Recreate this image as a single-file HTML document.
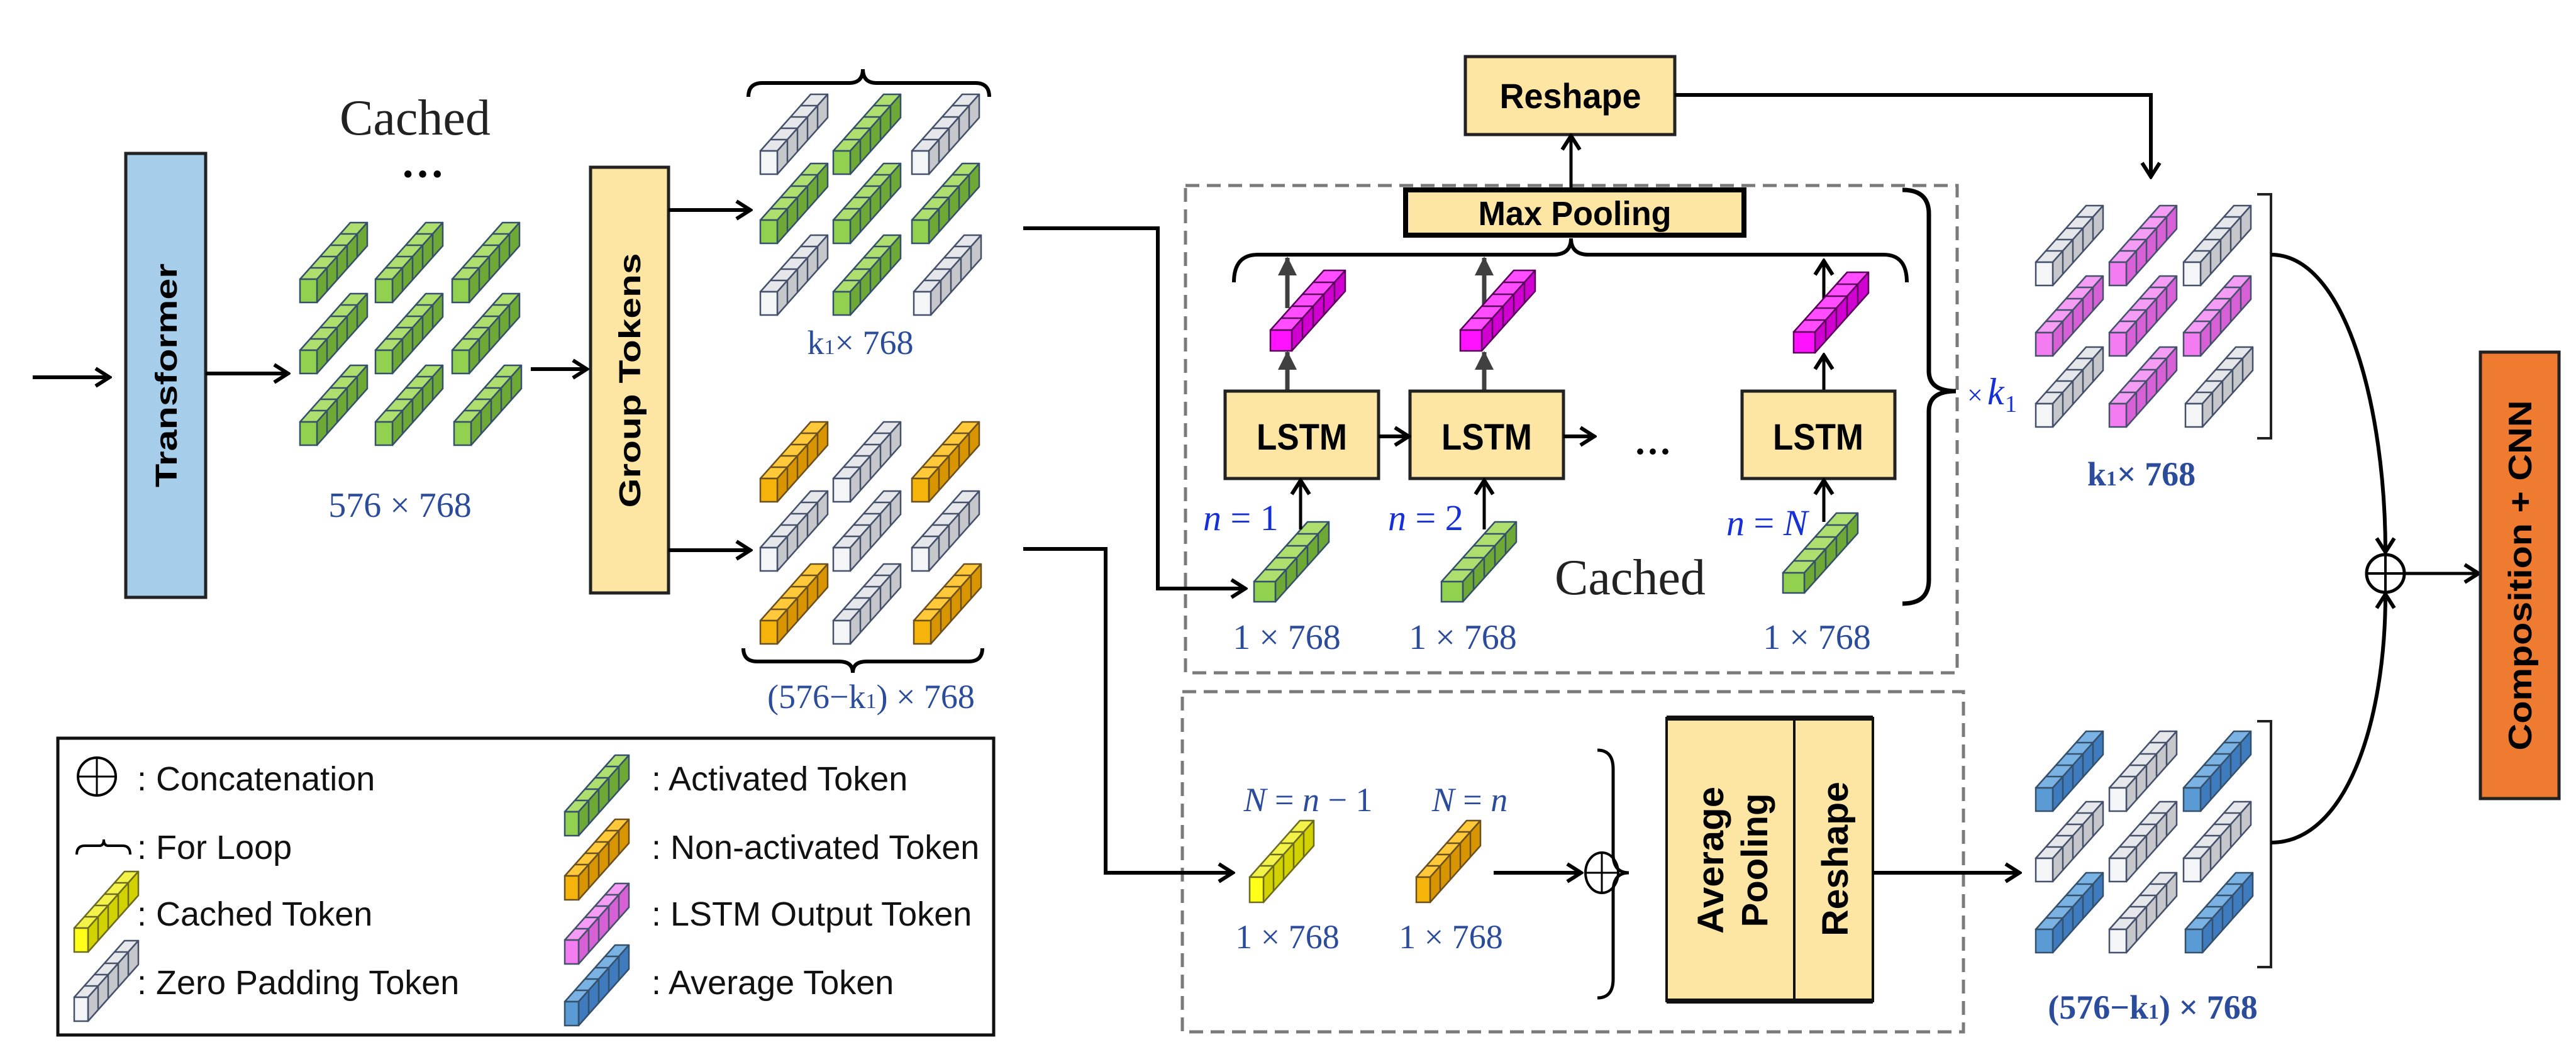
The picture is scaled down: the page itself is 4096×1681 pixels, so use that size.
<!DOCTYPE html>
<html><head><meta charset="utf-8"><style>
html,body{margin:0;padding:0;background:#fff;}
svg{display:block;}
.sans{font-family:"Liberation Sans",sans-serif;font-weight:bold;}
.serif{font-family:"Liberation Serif",serif;}
.blue{fill:#2b4c9b;}
.vb{fill:#1530d8;}
</style></head><body>
<svg id="s" xmlns="http://www.w3.org/2000/svg" width="4096" height="1681" viewBox="0 0 4096 1681">
<defs>
<marker id="ah" markerUnits="userSpaceOnUse" markerWidth="30" markerHeight="34" refX="26" refY="17" orient="auto">
<path d="M4,3 L26,17 L4,31" fill="none" stroke="#000" stroke-width="6"/>
</marker>
<marker id="ahg" markerUnits="userSpaceOnUse" markerWidth="30" markerHeight="34" refX="28" refY="15" orient="auto">
<path d="M0,0 L30,15 L0,30 Z" fill="#404040"/>
</marker>
</defs>
<rect width="4096" height="1681" fill="#fff"/>

<!-- dashed boxes -->
<rect x="1885" y="295" width="1227" height="775" fill="none" stroke="#7a7a7a" stroke-width="5" stroke-dasharray="22 12"/>
<rect x="1880" y="1100" width="1242" height="541" fill="none" stroke="#7a7a7a" stroke-width="5" stroke-dasharray="22 12"/>

<!-- Transformer -->
<line x1="52" y1="600" x2="174" y2="600" stroke="#000" stroke-width="6" marker-end="url(#ah)"/>
<rect x="200" y="244" width="127" height="706" fill="#a6cde9" stroke="#222" stroke-width="5"/>
<text class="sans" x="0" y="0" font-size="48" textLength="356" lengthAdjust="spacingAndGlyphs" text-anchor="middle" transform="translate(281,597) rotate(-90)">Transformer</text>
<line x1="327" y1="594" x2="458" y2="594" stroke="#000" stroke-width="6" marker-end="url(#ah)"/>

<text class="serif" x="660" y="214" font-size="80" text-anchor="middle" fill="#222">Cached</text>
<text class="serif" x="672" y="300" font-size="70" text-anchor="middle" font-weight="bold">···</text>
<text class="serif blue" x="636" y="822" font-size="56" text-anchor="middle">576 × 768</text>

<line x1="844" y1="587" x2="933" y2="587" stroke="#000" stroke-width="6" marker-end="url(#ah)"/>
<rect x="939" y="266" width="124" height="677" fill="#fde6a3" stroke="#222" stroke-width="5"/>
<text class="sans" font-size="48" textLength="405" lengthAdjust="spacingAndGlyphs" text-anchor="middle" transform="translate(1018,605) rotate(-90)">Group Tokens</text>
<line x1="1063" y1="334" x2="1193" y2="334" stroke="#000" stroke-width="6" marker-end="url(#ah)"/>
<line x1="1063" y1="875" x2="1193" y2="875" stroke="#000" stroke-width="6" marker-end="url(#ah)"/>

<path d="M1190,154 Q1190,132 1212,132 L1350,132 Q1372,132 1372,110 Q1372,132 1394,132 L1551,132 Q1573,132 1573,154" fill="none" stroke="#000" stroke-width="6"/>
<text class="serif blue" x="1368" y="563" font-size="54" text-anchor="middle">k<tspan font-size="34">1</tspan>× 768</text>
<path d="M1182,1031 Q1182,1052 1204,1052 L1334,1052 Q1356,1052 1356,1070 Q1356,1052 1378,1052 L1540,1052 Q1562,1052 1562,1031" fill="none" stroke="#000" stroke-width="6"/>
<text class="serif blue" x="1385" y="1126" font-size="54" text-anchor="middle">(576−k<tspan font-size="34">1</tspan>) × 768</text>

<!-- connectors to middle -->
<path d="M1627,363 L1841,363 L1841,936 L1980,936" fill="none" stroke="#000" stroke-width="6" marker-end="url(#ah)"/>
<path d="M1627,873 L1758,873 L1758,1388 L1960,1388" fill="none" stroke="#000" stroke-width="6" marker-end="url(#ah)"/>

<!-- top section -->
<rect x="2330" y="90" width="333" height="124" fill="#fde6a3" stroke="#222" stroke-width="5"/>
<text class="sans" x="2497" y="172" font-size="56" text-anchor="middle" textLength="225" lengthAdjust="spacingAndGlyphs">Reshape</text>
<line x1="2498" y1="300" x2="2498" y2="216" stroke="#000" stroke-width="5" marker-end="url(#ah)"/>
<path d="M2663,151 L3420,151 L3420,281" fill="none" stroke="#000" stroke-width="6" marker-end="url(#ah)"/>
<rect x="2235" y="302" width="538" height="72" fill="#fde6a3" stroke="#000" stroke-width="8"/>
<text class="sans" x="2504" y="358" font-size="54" text-anchor="middle" textLength="307" lengthAdjust="spacingAndGlyphs">Max Pooling</text>
<path d="M1962,449 Q1962,405 2000,405 L2470,405 Q2498,405 2498,379 Q2498,405 2526,405 L2995,405 Q3032,405 3032,449" fill="none" stroke="#000" stroke-width="6"/>
<path d="M3025,302 Q3067,302 3067,340 L3067,590 Q3067,622 3110,622 Q3067,622 3067,654 L3067,922 Q3067,960 3025,960" fill="none" stroke="#000" stroke-width="7"/>
<text class="serif vb" x="3128" y="643" font-size="44">×</text>
<text class="serif vb" x="3160" y="643" font-size="60" font-style="italic">k</text>
<text class="serif vb" x="3188" y="655" font-size="38">1</text>

<!-- gray arrows -->
<g stroke="#404040" stroke-width="7">
<line x1="2047" y1="622" x2="2047" y2="560" marker-end="url(#ahg)"/>
<line x1="2047" y1="490" x2="2047" y2="410" marker-end="url(#ahg)"/>
<line x1="2360" y1="622" x2="2360" y2="560" marker-end="url(#ahg)"/>
<line x1="2360" y1="490" x2="2360" y2="410" marker-end="url(#ahg)"/>
</g>
<line x1="2900" y1="622" x2="2900" y2="565" stroke="#000" stroke-width="5" marker-end="url(#ah)"/>
<line x1="2900" y1="480" x2="2900" y2="415" stroke="#000" stroke-width="5" marker-end="url(#ah)"/>

<g id="tk"></g>

<rect x="1948" y="622" width="244" height="139" fill="#fde6a3" stroke="#222" stroke-width="5"/>
<rect x="2242" y="622" width="244" height="139" fill="#fde6a3" stroke="#222" stroke-width="5"/>
<rect x="2770" y="622" width="243" height="139" fill="#fde6a3" stroke="#222" stroke-width="5"/>
<text class="sans" x="2070" y="715" font-size="58" text-anchor="middle" textLength="144" lengthAdjust="spacingAndGlyphs">LSTM</text>
<text class="sans" x="2364" y="715" font-size="58" text-anchor="middle" textLength="144" lengthAdjust="spacingAndGlyphs">LSTM</text>
<text class="sans" x="2891" y="715" font-size="58" text-anchor="middle" textLength="144" lengthAdjust="spacingAndGlyphs">LSTM</text>
<line x1="2192" y1="694" x2="2240" y2="694" stroke="#000" stroke-width="6" marker-end="url(#ah)"/>
<line x1="2486" y1="694" x2="2535" y2="694" stroke="#000" stroke-width="6" marker-end="url(#ah)"/>
<text class="serif" x="2628" y="738" font-size="60" text-anchor="middle" font-weight="bold">···</text>
<g stroke="#000" stroke-width="5">
<line x1="2068" y1="842" x2="2068" y2="764" marker-end="url(#ah)"/>
<line x1="2360" y1="842" x2="2360" y2="764" marker-end="url(#ah)"/>
<line x1="2900" y1="830" x2="2900" y2="764" marker-end="url(#ah)"/>
</g>
<text class="serif vb" x="1913" y="843" font-size="58"><tspan font-style="italic">n</tspan> = 1</text>
<text class="serif vb" x="2207" y="843" font-size="58"><tspan font-style="italic">n</tspan> = 2</text>
<text class="serif vb" x="2745" y="851" font-size="58"><tspan font-style="italic">n</tspan> = <tspan font-style="italic">N</tspan></text>
<text class="serif" x="2592" y="945" font-size="80" text-anchor="middle" fill="#222">Cached</text>
<text class="serif blue" x="2046" y="1032" font-size="56" text-anchor="middle">1 × 768</text>
<text class="serif blue" x="2326" y="1032" font-size="56" text-anchor="middle">1 × 768</text>
<text class="serif blue" x="2889" y="1032" font-size="56" text-anchor="middle">1 × 768</text>

<!-- bottom section -->
<text class="serif blue" x="2080" y="1290" font-size="54" text-anchor="middle"><tspan font-style="italic">N</tspan> = <tspan font-style="italic">n</tspan> − 1</text>
<text class="serif blue" x="2337" y="1290" font-size="54" text-anchor="middle"><tspan font-style="italic">N</tspan> = <tspan font-style="italic">n</tspan></text>
<text class="serif blue" x="2047" y="1508" font-size="54" text-anchor="middle">1 × 768</text>
<text class="serif blue" x="2307" y="1508" font-size="54" text-anchor="middle">1 × 768</text>
<line x1="2375" y1="1388" x2="2514" y2="1388" stroke="#000" stroke-width="6" marker-end="url(#ah)"/>
<ellipse cx="2547" cy="1388" rx="26" ry="32" fill="none" stroke="#000" stroke-width="4"/>
<line x1="2547" y1="1356" x2="2547" y2="1420" stroke="#000" stroke-width="3"/>
<line x1="2521" y1="1388" x2="2573" y2="1388" stroke="#000" stroke-width="3"/>
<path d="M2540,1193 Q2565,1193 2565,1223 L2565,1358 Q2565,1388 2590,1388 Q2565,1388 2565,1418 L2565,1557 Q2565,1587 2540,1587" fill="none" stroke="#000" stroke-width="5"/>
<rect x="2650" y="1142" width="328" height="450" fill="#fde6a3" stroke="#111" stroke-width="4"/>
<line x1="2650" y1="1142" x2="2978" y2="1142" stroke="#111" stroke-width="8"/>
<line x1="2650" y1="1592" x2="2978" y2="1592" stroke="#111" stroke-width="8"/>
<line x1="2853" y1="1142" x2="2853" y2="1592" stroke="#111" stroke-width="4"/>
<text class="sans" font-size="58" text-anchor="middle" textLength="234" lengthAdjust="spacingAndGlyphs" transform="translate(2740,1368) rotate(-90)">Average</text>
<text class="sans" font-size="58" text-anchor="middle" textLength="213" lengthAdjust="spacingAndGlyphs" transform="translate(2810,1368) rotate(-90)">Pooling</text>
<text class="sans" font-size="58" text-anchor="middle" textLength="246" lengthAdjust="spacingAndGlyphs" transform="translate(2938,1366) rotate(-90)">Reshape</text>
<line x1="2978" y1="1388" x2="3211" y2="1388" stroke="#000" stroke-width="6" marker-end="url(#ah)"/>

<!-- right -->
<path d="M3589,309 L3611,309 L3611,697 L3589,697" fill="none" stroke="#222" stroke-width="4"/>
<path d="M3589,1147 L3611,1147 L3611,1538 L3589,1538" fill="none" stroke="#222" stroke-width="4"/>
<text class="serif blue" x="3405" y="772" font-size="54" font-weight="bold" text-anchor="middle">k<tspan font-size="34">1</tspan>× 768</text>
<text class="serif blue" x="3423" y="1620" font-size="54" font-weight="bold" text-anchor="middle">(576−k<tspan font-size="34">1</tspan>) × 768</text>
<path d="M3611,405 C3730,405 3793,650 3793,878" fill="none" stroke="#000" stroke-width="6" marker-end="url(#ah)"/>
<path d="M3611,1340 C3730,1340 3793,1150 3793,945" fill="none" stroke="#000" stroke-width="6" marker-end="url(#ah)"/>
<circle cx="3793" cy="912" r="30" fill="none" stroke="#000" stroke-width="5"/>
<line x1="3793" y1="882" x2="3793" y2="942" stroke="#000" stroke-width="4"/>
<line x1="3763" y1="912" x2="3823" y2="912" stroke="#000" stroke-width="4"/>
<line x1="3823" y1="912" x2="3941" y2="912" stroke="#000" stroke-width="5" marker-end="url(#ah)"/>
<rect x="3944" y="560" width="125" height="710" fill="#ee7b30" stroke="#222" stroke-width="5"/>
<text class="sans" font-size="52" text-anchor="middle" textLength="557" lengthAdjust="spacingAndGlyphs" transform="translate(4025,915) rotate(-90)">Composition + CNN</text>

<!-- legend -->
<rect x="92" y="1174" width="1488" height="472" fill="none" stroke="#111" stroke-width="5"/>
<circle cx="154" cy="1235" r="30" fill="none" stroke="#000" stroke-width="4"/>
<line x1="154" y1="1205" x2="154" y2="1265" stroke="#000" stroke-width="3"/>
<line x1="124" y1="1235" x2="184" y2="1235" stroke="#000" stroke-width="3"/>
<path d="M122,1359 Q122,1345 135,1345 L158,1345 Q165,1345 165,1335 Q165,1345 172,1345 L195,1345 Q207,1345 207,1359" fill="none" stroke="#000" stroke-width="4"/>
<g font-family="Liberation Sans, sans-serif" font-size="54" fill="#111">
<text x="218" y="1257">: Concatenation</text>
<text x="218" y="1366">: For Loop</text>
<text x="218" y="1472">: Cached Token</text>
<text x="218" y="1581">: Zero Padding Token</text>
<text x="1036" y="1257">: Activated Token</text>
<text x="1036" y="1366">: Non-activated Token</text>
<text x="1036" y="1472">: LSTM Output Token</text>
<text x="1036" y="1581">: Average Token</text>
</g>
</svg>
<script>
var C={
 g:['#92d050','#aede6e','#6fa935','#35506b'],
 w:['#f4f5f7','#e6e7ea','#c6c7cb','#45506a'],
 o:['#f6b40a','#ffc93a','#d99500','#6a5020'],
 y:['#ffff1a','#f2f24a','#d2d200','#6a6a20'],
 m:['#ff12ff','#ff4dff','#d000d0','#5a005a'],
 p:['#f27cf0','#f59cf4','#d860d6','#45506a'],
 b:['#5b9bd5','#7ab2e4','#3e7bbf','#35506b']
};
var NS='http://www.w3.org/2000/svg',G=document.getElementById('tk');
function el(t,a){var e=document.createElementNS(NS,t);for(var k in a)e.setAttribute(k,a[k]);G.appendChild(e);return e;}
function tok(x,y,c,w,h,dx,dy){
 var col=C[c],n=5,sw=2.5;
 var X=5*dx,Y=5*dy;
 el('polygon',{points:[x,y-h,x+w,y-h,x+w+X,y-h-Y,x+X,y-h-Y].join(' '),fill:col[1],stroke:col[3],'stroke-width':sw,'stroke-linejoin':'round'});
 el('polygon',{points:[x+w,y,x+w,y-h,x+w+X,y-h-Y,x+w+X,y-Y].join(' '),fill:col[2],stroke:col[3],'stroke-width':sw,'stroke-linejoin':'round'});
 el('rect',{x:x,y:y-h,width:w,height:h,fill:col[0],stroke:col[3],'stroke-width':sw});
 for(var i=1;i<n;i++){
  el('line',{x1:x+i*dx,y1:y-h-i*dy,x2:x+w+i*dx,y2:y-h-i*dy,stroke:col[3],'stroke-width':sw});
  el('line',{x1:x+w+i*dx,y1:y-h-i*dy,x2:x+w+i*dx,y2:y-i*dy,stroke:col[3],'stroke-width':sw});
 }
}
function grid(xs,ys,pat){
 for(var r=0;r<3;r++)for(var c=0;c<3;c++)tok(xs[c]+(r==2&&c==2?3:0),ys[r],pat[r][c],27,37,16,18);
}
grid([477,597,719],[481,594,708],['ggg','ggg','ggg']);
grid([1209,1325,1450],[277,387,501],['wgw','ggg','wgw']);
grid([1209,1325,1450],[798,908,1024],['owo','www','owo']);
grid([3237,3354,3472],[454,566,679],['wpw','ppp','wpw']);
grid([3237,3354,3472],[1290,1402,1515],['bwb','www','bwb']);
// LSTM outputs
tok(2020,558,'m',34,33,17,19);tok(2322,558,'m',34,33,17,19);tok(2852,561,'m',34,33,17,19);
// LSTM inputs
tok(1994,957,'g',34,32,17,19);tok(2292,957,'g',34,32,17,19);tok(2835,943,'g',34,32,17,19);
// bottom tokens
tok(1987,1435,'y',22,40,16,18);tok(2252,1435,'o',22,40,16,18);
// legend
tok(118,1514,'y',22,38,16,18);tok(118,1624,'w',22,38,16,18);
tok(898,1329,'g',22,38,16,18);tok(898,1431,'o',22,38,16,18);tok(898,1533,'p',22,38,16,18);tok(898,1631,'b',22,38,16,18);
</script>
</body></html>
